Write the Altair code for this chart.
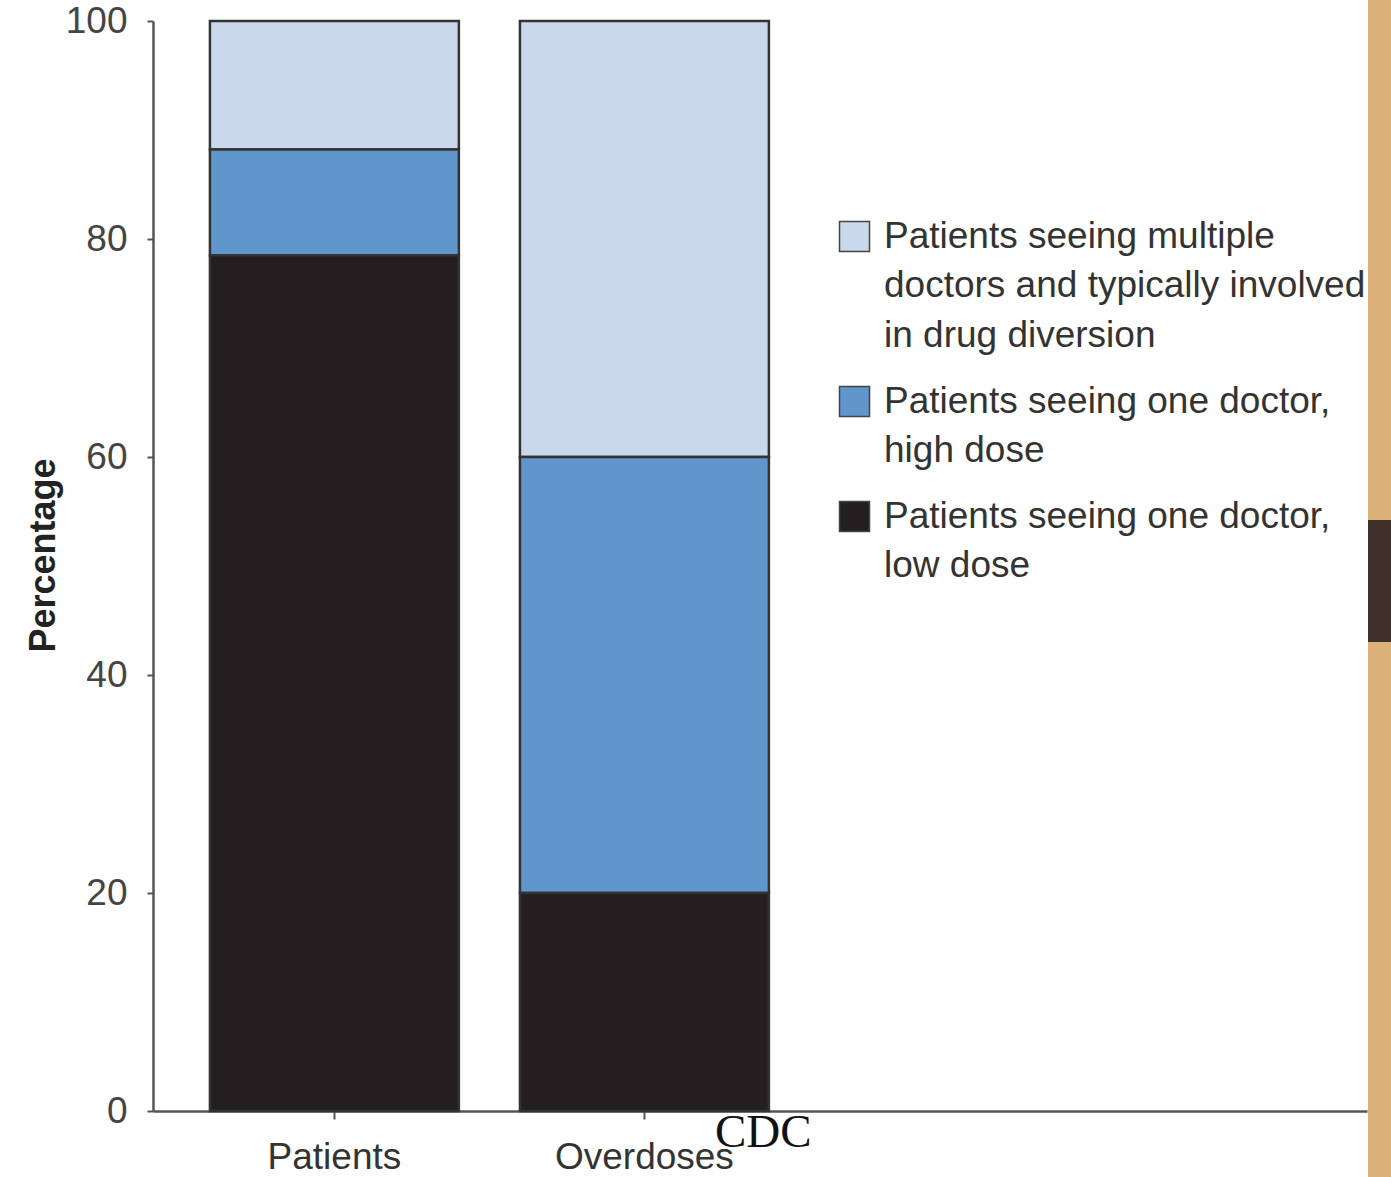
import altair as alt
import pandas as pd

# Share of patients and of overdoses by prescribing pattern (percent)
groups = ["Patients", "Overdoses"]
categories = [
    "Patients seeing multiple|doctors and typically involved|in drug diversion",
    "Patients seeing one doctor,|high dose",
    "Patients seeing one doctor,|low dose",
]
patients_pct = [11.8, 9.7, 78.5]
overdoses_pct = [40.0, 40.0, 20.0]
stack_position = [2, 1, 0]  # low dose sits at the bottom of each bar
colors = ["#c9d8ea", "#6096cb", "#231f20"]
y_ticks = [0, 20, 40, 60, 80, 100]

rows = []
for g, vals in zip(groups, [patients_pct, overdoses_pct]):
    for cat, v, pos in zip(categories, vals, stack_position):
        rows.append({"group": g, "category": cat, "value": v, "pos": pos})
df = pd.DataFrame(rows)

FONT = "Liberation Sans, Arial, sans-serif"
W, H = 1214, 1090

# an empty third slot keeps the two bars on the left of a long axis
x_domain = groups + [" "]

bars = alt.Chart(df).mark_bar(stroke="#333333", strokeWidth=2.5).encode(
    x=alt.X(
        "group:N",
        scale=alt.Scale(domain=x_domain, paddingInner=0.197, paddingOuter=0.5565, align=0.165),
        axis=alt.Axis(
            values=groups,
            title=None,
            labelAngle=0,
            labelFont=FONT,
            labelFontSize=37,
            labelColor="#333333",
            labelBaseline="top",
            labelPadding=20,
            labelLimit=0,
            tickSize=8,
            tickColor="#555555",
            tickWidth=2,
            domainColor="#555555",
            domainWidth=2.5,
        ),
    ),
    y=alt.Y(
        "value:Q",
        stack="zero",
        scale=alt.Scale(domain=[0, 100], nice=False),
        axis=alt.Axis(
            values=y_ticks,
            title="Percentage",
            titleFont=FONT,
            titleFontSize=36,
            titleFontWeight="bold",
            titleColor="#222222",
            titleAngle=270,
            titleAlign="center",
            titleBaseline="alphabetic",
            titleX=-99,
            titleY=534,
            labelFont=FONT,
            labelFontSize=37,
            labelColor="#444444",
            labelPadding=20,
            tickSize=6,
            tickColor="#555555",
            tickWidth=2,
            domainColor="#555555",
            domainWidth=2.5,
            grid=False,
            labelBound=False,
        ),
    ),
    color=alt.Color(
        "category:N",
        scale=alt.Scale(domain=categories, range=colors),
        legend=alt.Legend(
            orient="none",
            legendX=683,
            legendY=197,
            title=None,
            padding=0,
            labelExpr="split(datum.label, '|')",
            labelFont=FONT,
            labelFontSize=37,
            labelColor="#333333",
            labelLimit=0,
            labelOffset=11,
            symbolType="square",
            symbolSize=900,
            symbolStrokeColor="#444444",
            symbolStrokeWidth=1.5,
            rowPadding=28,
        ),
    ),
    order=alt.Order("pos:Q", sort="ascending"),
)

# source credit below the axis
credit = alt.Chart(pd.DataFrame({"t": ["CDC"]})).mark_text(
    font="Liberation Serif", fontSize=47, color="#111111", align="left", baseline="alphabetic"
).encode(text="t:N", x=alt.value(562), y=alt.value(1126))

# wooden slide edge on the right
edge = pd.DataFrame({"k": [0]})
wood = alt.Chart(edge).mark_rect(color="#dcb27a").encode(
    x=alt.value(W + 1), x2=alt.value(W + 30), y=alt.value(-21), y2=alt.value(H + 70)
)
band = alt.Chart(edge).mark_rect(color="#3d3129").encode(
    x=alt.value(W + 1), x2=alt.value(W + 30), y=alt.value(499), y2=alt.value(621)
)

chart = (
    alt.layer(wood, band, bars, credit)
    .properties(
        width=W,
        height=H,
        autosize=alt.AutoSizeParams(type="none"),
        padding={"left": 153, "top": 21, "right": 24, "bottom": 66},
        background="white",
    )
    .configure(style={"guide-label": {"lineHeight": 49.5}})
    .configure_view(stroke=None)
)

chart.save("out.html", embed_options={"renderer": "svg", "actions": False})
